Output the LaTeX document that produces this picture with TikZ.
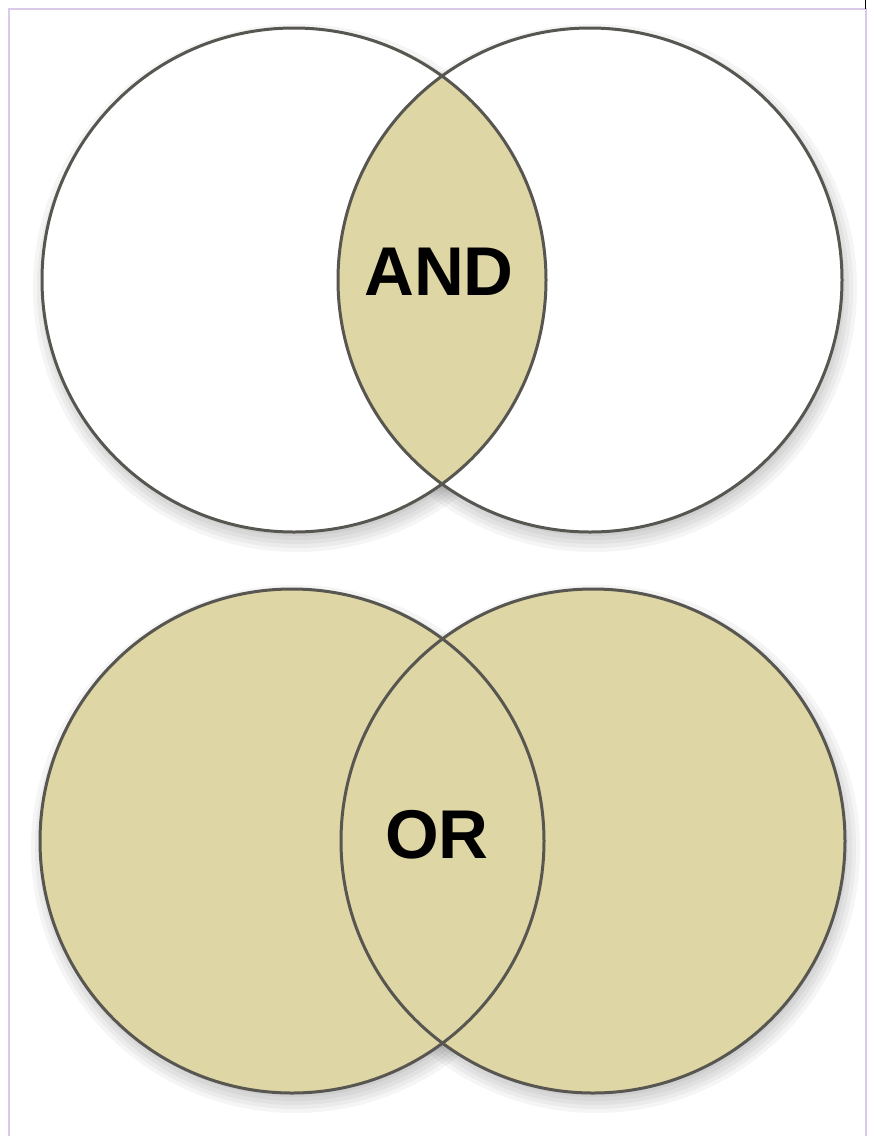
\documentclass[tikz,border=0pt]{standalone}
\usepackage{fontspec}
\setmainfont{Liberation Sans}
\definecolor{tan}{RGB}{222,214,164}
\definecolor{ring}{RGB}{88,86,80}
\definecolor{frame}{RGB}{216,202,232}
\begin{document}
\begin{tikzpicture}[x=1pt,y=-1pt,
  ringline/.style={draw=ring, line width=3},
  label/.style={font=\fontsize{69}{69}\selectfont\bfseries, text=black, inner sep=0pt},
  shade/.style={fill=black, opacity=0.04}]
\useasboundingbox (0,0) rectangle (876,1136);
\fill[white] (0,0) rectangle (876,1136);
% frame
\draw[frame, line width=2] (9,1140) -- (9,9) -- (866,9) -- (866,1140);
\draw[black, line width=0.8] (865,0) -- (865,9);
% shadows
\foreach \cx/\cy in {294/280, 590/280, 292/841, 593/841}{
  \foreach \r in {244,248,...,264}{
    \fill[shade] (\cx+3,\cy+8) circle (\r);
  }
}
% top: AND
\fill[white] (294,280) circle (252);
\fill[white] (590,280) circle (252);
\begin{scope}
  \clip (294,280) circle (252);
  \fill[tan] (590,280) circle (252);
\end{scope}
\draw[ringline] (294,280) circle (252);
\draw[ringline] (590,280) circle (252);
\node[label] (and) at (439,272) {AND};
% bottom: OR
\fill[tan] (292,841) circle (252);
\fill[tan] (593,841) circle (252);
\draw[ringline] (292,841) circle (252);
\draw[ringline] (593,841) circle (252);
\node[label] (or) at (437,835) {OR};
\end{tikzpicture}
\end{document}
